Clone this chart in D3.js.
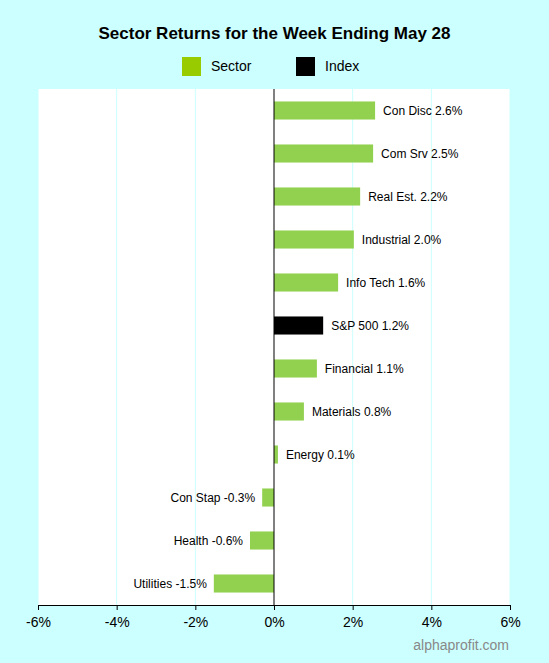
<!DOCTYPE html><html><head><script src="https://cdn.jsdelivr.net/npm/d3@7"></script>
<style>body{margin:0;background:#ccffff}</style></head><body><script>
const categories=["Con Disc","Com Srv","Real Est.","Industrial","Info Tech","S&P 500","Financial","Materials","Energy","Con Stap","Health","Utilities"];
const values=[2.57,2.52,2.19,2.03,1.63,1.25,1.09,0.76,0.10,-0.30,-0.61,-1.53];
const labels=["2.6%","2.5%","2.2%","2.0%","1.6%","1.2%","1.1%","0.8%","0.1%","-0.3%","-0.6%","-1.5%"];
const types=["Sector","Sector","Sector","Sector","Sector","Index","Sector","Sector","Sector","Sector","Sector","Sector"];
const ticks=[-6,-4,-2,0,2,4,6];
const W=549,H=663,L=38,R=510,T=89,B=605;
const svg=d3.select("body").append("svg").attr("width",W).attr("height",H).style("font-family","Arial, Liberation Sans, sans-serif");
svg.append("rect").attr("width",W).attr("height",H).attr("fill","#ccffff");
svg.append("rect").attr("x",L).attr("y",T).attr("width",R-L).attr("height",B-T).attr("fill","#fff");
const x=d3.scaleLinear().domain([-6,6]).range([L,R]);
const y=d3.scaleBand().domain(categories).range([T,B]).paddingInner(0.58).paddingOuter(0.29);
svg.selectAll(".g").data(ticks.filter(t=>t!==0)).enter().append("line").attr("x1",d=>x(d)).attr("x2",d=>x(d)).attr("y1",T).attr("y2",B).attr("stroke","#ccffff");
svg.append("text").attr("x",W/2).attr("y",39).attr("text-anchor","middle").attr("font-weight","bold").attr("font-size",17).text("Sector Returns for the Week Ending May 28");
const leg=[["Sector","#99cc00",182],["Index","#000",296]];
leg.forEach(([n,c,lx])=>{svg.append("rect").attr("x",lx).attr("y",57).attr("width",19).attr("height",19).attr("fill",c);
svg.append("text").attr("x",lx+29).attr("y",71).attr("font-size",14).text(n);});
svg.selectAll(".bar").data(categories).enter().append("rect")
.attr("x",(d,i)=>x(Math.min(0,values[i]))).attr("y",d=>y(d)).attr("height",y.bandwidth())
.attr("width",(d,i)=>Math.abs(x(values[i])-x(0))).attr("fill",(d,i)=>types[i]==="Index"?"#000":"#92d050");
svg.selectAll(".lab").data(categories).enter().append("text")
.attr("x",(d,i)=>values[i]>=0?x(values[i])+8:x(values[i])-7).attr("y",d=>y(d)+y.bandwidth()/2+4)
.attr("text-anchor",(d,i)=>values[i]>=0?"start":"end").attr("font-size",12).text((d,i)=>d+" "+labels[i]);
svg.append("line").attr("x1",x(0)).attr("x2",x(0)).attr("y1",T).attr("y2",B).attr("stroke","#000");
const ax=svg.append("g").attr("transform",`translate(0,${B})`).call(d3.axisBottom(x).tickValues(ticks).tickFormat(d=>d+"%").tickSize(5));
ax.select(".domain").attr("stroke","#000");ax.selectAll("text").attr("font-size",14).attr("fill","#000").attr("dy","1.0em");
svg.append("text").attr("x",509).attr("y",650).attr("text-anchor","end").attr("font-size",14).attr("fill","#888").text("alphaprofit.com");
</script></body></html>
